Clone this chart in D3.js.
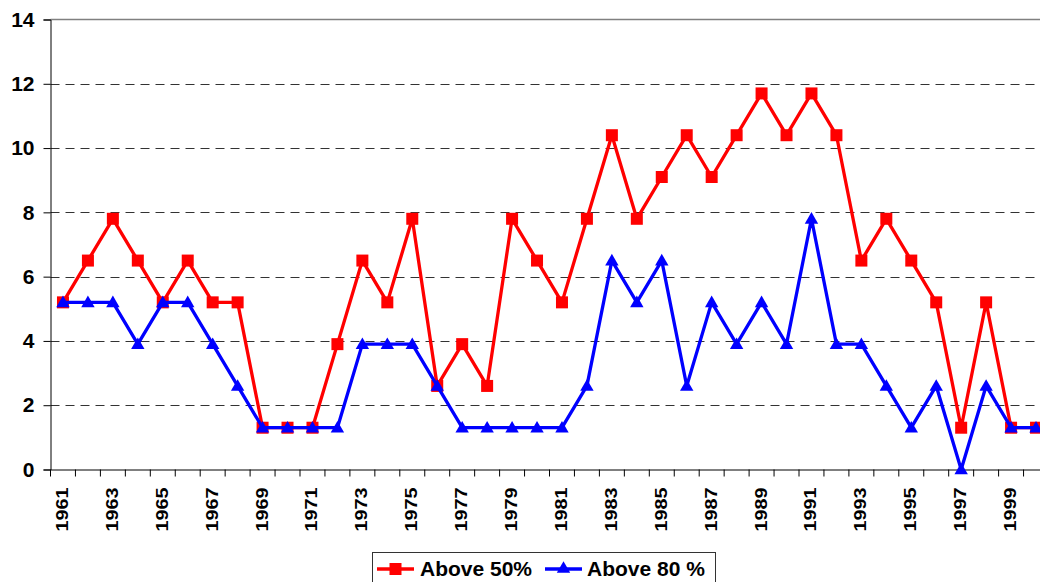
<!DOCTYPE html>
<html>
<head>
<meta charset="utf-8">
<script src="https://cdn.jsdelivr.net/npm/d3@7"></script>
<style>
body { margin: 0; background: #fff; }
svg { display: block; font-family: Arial, "Liberation Sans", sans-serif; }
</style>
</head>
<body>
<script>
var w = 1040;
var h = 582;

// data
var years = d3.range(1961, 2001);
var above50 = [5.2, 6.5, 7.8, 6.5, 5.2, 6.5, 5.2, 5.2, 1.3, 1.3,
    1.3, 3.9, 6.5, 5.2, 7.8, 2.6, 3.9, 2.6, 7.8, 6.5,
    5.2, 7.8, 10.4, 7.8, 9.1, 10.4, 9.1, 10.4, 11.7, 10.4,
    11.7, 10.4, 6.5, 7.8, 6.5, 5.2, 1.3, 5.2, 1.3, 1.3];
var above80 = [5.2, 5.2, 5.2, 3.9, 5.2, 5.2, 3.9, 2.6, 1.3, 1.3,
    1.3, 1.3, 3.9, 3.9, 3.9, 2.6, 1.3, 1.3, 1.3, 1.3,
    1.3, 2.6, 6.5, 5.2, 6.5, 2.6, 5.2, 3.9, 5.2, 3.9,
    7.8, 3.9, 3.9, 2.6, 1.3, 2.6, 0, 2.6, 1.3, 1.3];
var yTicks = [0, 2, 4, 6, 8, 10, 12, 14];
var seriesNames = ["Above 50%", "Above 80 %"];

var plotLeft = 50.5, plotTop = 19.5, plotBottom = 469.5, plotRight = 1048.5;

var svg = d3.select("body")
    .append("svg")
    .attr("width", w)
    .attr("height", h);

var xScale = d3.scaleBand()
    .domain(years)
    .range([plotLeft, plotRight])
    .padding(0);

var yScale = d3.scaleLinear()
    .domain([0, 14])
    .range([plotBottom, plotTop]);

// dashed gridlines
svg.append("g")
    .selectAll("line")
    .data(yTicks.filter(function(d) { return d > 0 && d < 14; }))
    .enter()
    .append("line")
    .attr("x1", plotLeft)
    .attr("x2", w)
    .attr("y1", function(d) { return Math.round(yScale(d)) + 0.5; })
    .attr("y2", function(d) { return Math.round(yScale(d)) + 0.5; })
    .attr("stroke", "#333")
    .attr("stroke-width", 1)
    .attr("stroke-dasharray", "9,6");

// top border of plot area
svg.append("line")
    .attr("x1", plotLeft).attr("x2", w)
    .attr("y1", plotTop).attr("y2", plotTop)
    .attr("stroke", "#808080")
    .attr("stroke-width", 1.5);

// y axis
var yAxis = d3.axisLeft(yScale)
    .tickValues(yTicks)
    .tickSize(7)
    .tickPadding(9);
var gy = svg.append("g")
    .attr("transform", "translate(" + plotLeft + ",0)")
    .call(yAxis);
gy.select(".domain").attr("stroke", "#000");
gy.selectAll(".tick line").attr("stroke", "#000");
gy.selectAll(".tick text")
    .attr("font-size", "21px")
    .attr("font-weight", "bold")
    .attr("fill", "#000")
    .attr("font-family", "Arial, 'Liberation Sans', sans-serif");

// x axis: ticks on category edges, labels every other year
var xAxis = d3.axisBottom(xScale).tickSize(0).tickFormat("");
var gx = svg.append("g")
    .attr("transform", "translate(0," + plotBottom + ")")
    .call(xAxis);
gx.select(".domain").attr("stroke", "#000");

gx.selectAll("line.edge")
    .data(years.concat([2001]))
    .enter()
    .append("line")
    .attr("class", "edge")
    .attr("x1", function(d, i) { return plotLeft + i * xScale.bandwidth(); })
    .attr("x2", function(d, i) { return plotLeft + i * xScale.bandwidth(); })
    .attr("y1", 0)
    .attr("y2", 7)
    .attr("stroke", "#000");

gx.selectAll("text.yr")
    .data(years.filter(function(d) { return d % 2 === 1; }))
    .enter()
    .append("text")
    .attr("class", "yr")
    .attr("transform", function(d) {
        return "translate(" + (xScale(d) + xScale.bandwidth() / 2 + 5) + ",18) rotate(-90) scale(1.2,1)";
    })
    .attr("text-anchor", "end")
    .attr("font-size", "16.5px")
    .attr("font-weight", "bold")
    .attr("fill", "#000")
    .attr("font-family", "Arial, 'Liberation Sans', sans-serif")
    .text(function(d) { return d; });

var line = d3.line()
    .x(function(d, i) { return xScale(years[i]) + xScale.bandwidth() / 2; })
    .y(function(d) { return yScale(d); });

// Above 50% - red squares
svg.append("path")
    .datum(above50)
    .attr("d", line)
    .attr("fill", "none")
    .attr("stroke", "#ff0000")
    .attr("stroke-width", 3.3)
    .attr("stroke-linejoin", "round");

svg.append("g")
    .selectAll("rect")
    .data(above50)
    .enter()
    .append("rect")
    .attr("x", function(d, i) { return xScale(years[i]) + xScale.bandwidth() / 2 - 6; })
    .attr("y", function(d) { return yScale(d) - 6; })
    .attr("width", 12)
    .attr("height", 12)
    .attr("fill", "#ff0000");

// Above 80 % - blue triangles
svg.append("path")
    .datum(above80)
    .attr("d", line)
    .attr("fill", "none")
    .attr("stroke", "#0000ff")
    .attr("stroke-width", 3.3)
    .attr("stroke-linejoin", "round");

var tri = d3.symbol().type(d3.symbolTriangle).size(78);
svg.append("g")
    .selectAll("path")
    .data(above80)
    .enter()
    .append("path")
    .attr("d", tri)
    .attr("transform", function(d, i) {
        return "translate(" + (xScale(years[i]) + xScale.bandwidth() / 2) + "," + (yScale(d) + 1) + ")";
    })
    .attr("fill", "#0000ff");

// legend
var legend = svg.append("g");
legend.append("rect")
    .attr("x", 372.5)
    .attr("y", 552.5)
    .attr("width", 343)
    .attr("height", 40)
    .attr("fill", "#fff")
    .attr("stroke", "#333")
    .attr("stroke-width", 1);

var legendItems = [
    { name: seriesNames[0], color: "#ff0000", marker: "square", x: 377, tx: 420 },
    { name: seriesNames[1], color: "#0000ff", marker: "triangle", x: 545, tx: 587 }
];
legendItems.forEach(function(it) {
    legend.append("line")
        .attr("x1", it.x).attr("x2", it.x + 37)
        .attr("y1", 569).attr("y2", 569)
        .attr("stroke", it.color)
        .attr("stroke-width", 3.3);
    if (it.marker === "square") {
        legend.append("rect")
            .attr("x", it.x + 18.5 - 6).attr("y", 563)
            .attr("width", 12).attr("height", 12)
            .attr("fill", it.color);
    } else {
        legend.append("path")
            .attr("d", tri)
            .attr("transform", "translate(" + (it.x + 18.5) + ",569)")
            .attr("fill", it.color);
    }
    legend.append("text")
        .attr("x", it.tx)
        .attr("y", 576)
        .attr("font-size", "21px")
        .attr("font-weight", "bold")
        .attr("fill", "#000")
        .text(it.name);
});
</script>
</body>
</html>
